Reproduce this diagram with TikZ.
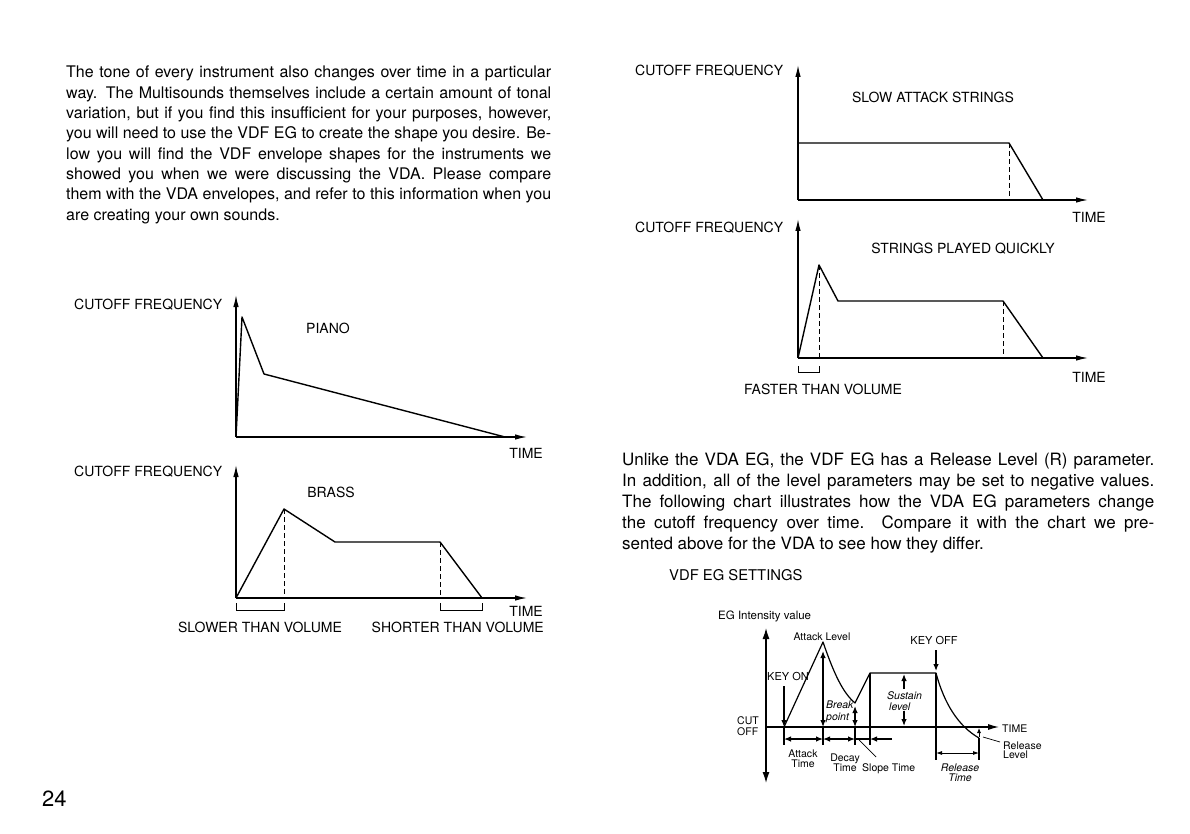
\documentclass[tikz,border=0pt]{standalone}
\usepackage{fontspec}
\setmainfont{TeX Gyre Heros}
\usetikzlibrary{arrows.meta}
\begin{document}
\begin{tikzpicture}[x=1pt,y=-1pt,
  axis/.style={line width=1.3pt,-{Latex[length=12pt,width=5.5pt]}},
  env/.style={line width=1.4pt,line join=round},
  dsh/.style={line width=1pt,dash pattern=on 5pt off 3pt},
  brk/.style={line width=0.9pt},
  lbl/.style={font=\fontsize{14}{16}\selectfont,inner sep=0pt},
  sm/.style={font=\fontsize{10.5}{12}\selectfont,inner sep=0pt},
  smi/.style={font=\fontsize{10.5}{12}\selectfont\itshape,inner sep=0pt},
  eg/.style={line width=1.2pt},
  egar/.style={line width=1.2pt,-{Latex[length=7pt,width=5.5pt]}},
  egdbl/.style={line width=1.2pt,{Latex[length=7pt,width=5.5pt]}-{Latex[length=7pt,width=5.5pt]}},
  body/.style={text width=#1,align=justify,inner sep=0pt,anchor=base west}
]
\useasboundingbox (0,0) rectangle (1190,834);

% ---------- paragraphs ----------
\node[body=485pt,font=\fontsize{16}{20.3}\selectfont] (para1) at (66,78)
{The tone of every instrument also changes over time in a particular\linebreak
way.  The Multisounds themselves include a certain amount of tonal\linebreak
variation, but if you find this insufficient for your purposes, however,\linebreak
you will need to use the VDF EG to create the shape you desire.  Be-\linebreak
low you will find the VDF envelope shapes for the instruments we\linebreak
showed you when we were discussing the VDA.  Please compare\linebreak
them with the VDA envelopes, and refer to this information when you\linebreak
are creating your own sounds.};

\node[body=532pt,font=\fontsize{17}{21.2}\selectfont] (para2) at (622,465)
{Unlike the VDA EG, the VDF EG has a Release Level (R) parameter.\linebreak
In addition, all of the level parameters may be set to negative values.\linebreak
The following chart illustrates how the VDA EG parameters change\linebreak
the cutoff frequency over time.  Compare it with the chart we pre-\linebreak
sented above for the VDA to see how they differ.};

\node[inner sep=0pt,anchor=base west,font=\fontsize{14.8}{17}\selectfont] (vdfset) at (669,580) {VDF EG SETTINGS};

\node[inner sep=0pt,anchor=base west,font=\fontsize{22}{24}\selectfont] (pagenum) at (42,806) {24};

% ---------- PIANO ----------
\coordinate (pO) at (236,437);
\coordinate (pY) at (236,295);
\coordinate (pX) at (527,437);
\coordinate (p1) at (242,317);
\coordinate (p2) at (264,374);
\coordinate (p3) at (505,437);
\draw[axis] (pO) -- (pY);
\draw[axis] (pO) -- (pX);
\draw[env] (pO) -- (p1) -- (p2) -- (p3);
\node[lbl,anchor=base west] (pcf) at (74,309) {CUTOFF FREQUENCY};
\node[lbl,anchor=base] (pname) at (328,333) {PIANO};
\node[lbl,anchor=base east] (ptime) at (543,458) {TIME};

% ---------- BRASS ----------
\coordinate (bO) at (236,598);
\coordinate (bY) at (236,465);
\coordinate (bX) at (527,598);
\coordinate (b1) at (284,509);
\coordinate (b2) at (335,542);
\coordinate (b3) at (440,542);
\coordinate (b4) at (482,598);
\coordinate (b1d) at (284,598);
\coordinate (b3d) at (440,598);
\draw[axis] (bO) -- (bY);
\draw[axis] (bO) -- (bX);
\draw[env] (bO) -- (b1) -- (b2) -- (b3) -- (b4);
\draw[dsh] (b1) -- (b1d);
\draw[dsh] (b3) -- (b3d);
\draw[brk] (236,603) -- (236,610) -- (284,610) -- (284,603);
\draw[brk] (440,603) -- (440,610) -- (482,610) -- (482,603);
\node[lbl,anchor=base west] (bcf) at (74,476) {CUTOFF FREQUENCY};
\node[lbl,anchor=base] (bname) at (331,497) {BRASS};
\node[lbl,anchor=base east] (btime) at (543,616) {TIME};
\node[lbl,anchor=base] (slower) at (260,632) {SLOWER THAN VOLUME};
\node[lbl,anchor=base east] (shorter) at (544,632) {SHORTER THAN VOLUME};

% ---------- SLOW ATTACK STRINGS ----------
\coordinate (sO) at (798,200);
\coordinate (sY) at (798,65);
\coordinate (sX) at (1088,200);
\coordinate (s1) at (798,143);
\coordinate (s2) at (1009,143);
\coordinate (s3) at (1043,200);
\coordinate (s2d) at (1009,200);
\draw[axis] (sO) -- (sY);
\draw[axis] (sO) -- (sX);
\draw[env] (s1) -- (s2) -- (s3);
\draw[dsh] (s2) -- (s2d);
\node[lbl,anchor=base west] (scf) at (635,76) {CUTOFF FREQUENCY};
\node[lbl,anchor=base] (sname) at (933,103) {SLOW ATTACK STRINGS};
\node[lbl,anchor=base east] (stime) at (1106,223) {TIME};

% ---------- STRINGS PLAYED QUICKLY ----------
\coordinate (qO) at (798,358);
\coordinate (qY) at (798,219);
\coordinate (qX) at (1088,358);
\coordinate (q1) at (819,265);
\coordinate (q2) at (838,301);
\coordinate (q3) at (1003,301);
\coordinate (q4) at (1043,358);
\coordinate (q1d) at (819,358);
\coordinate (q3d) at (1003,358);
\draw[axis] (qO) -- (qY);
\draw[axis] (qO) -- (qX);
\draw[env] (qO) -- (q1) -- (q2) -- (q3) -- (q4);
\draw[dsh] (q1) -- (q1d);
\draw[dsh] (q3) -- (q3d);
\draw[brk] (798,366) -- (798,372) -- (819,372) -- (819,366);
\node[lbl,anchor=base west] (qcf) at (635,233) {CUTOFF FREQUENCY};
\node[lbl,anchor=base] (qname) at (963,254) {STRINGS PLAYED QUICKLY};
\node[lbl,anchor=base east] (qtime) at (1106,382) {TIME};
\node[lbl,anchor=base] (faster) at (823,394) {FASTER THAN VOLUME};

% ---------- VDF EG SETTINGS chart ----------
\coordinate (eYt) at (766,628);
\coordinate (eYb) at (766,783);
\coordinate (eO) at (766,727);
\coordinate (eX) at (999,727);
\coordinate (kon) at (784,727);
\coordinate (peak) at (823,642);
\coordinate (brkp) at (855,703);
\coordinate (sus1) at (870,673);
\coordinate (koff) at (936,673);
\coordinate (rel) at (979,738);
\draw[line width=1.3pt,{Latex[length=11pt,width=7pt]}-{Latex[length=11pt,width=7pt]}] (eYb) -- (eYt);
\draw[line width=1.2pt,-{Latex[length=11pt,width=6pt]}] (eO) -- (eX);
\draw[eg,line join=round] (kon) -- (peak) .. controls (834,674) and (843,693) .. (brkp) -- (sus1) -- (koff)
  .. controls (944,703) and (958,726) .. (rel);
% key on
\coordinate (konT) at (784,686);
\draw[egar] (konT) -- (kon);
\draw[eg] (kon) -- (784,745);
% attack level
\draw[egdbl] (823,727) -- (823,651);
\draw[eg] (823,727) -- (823,745);
% break point
\draw[egdbl] (855,727) -- (855,706);
\draw[eg] (855,727) -- (855,745);
% slope vertical
\draw[eg] (sus1) -- (870,745);
% key off
\coordinate (koffT) at (936,650);
\draw[egar] (koffT) -- (936,671);
\draw[eg] (koff) -- (936,760);
% sustain level
\draw[egar] (904,689) -- (904,674);
\draw[egar] (904,711) -- (904,726);
% release
\draw[eg] (rel) -- (979,760);
\draw[line width=0.8pt,-{Latex[length=5pt,width=4pt]}] (979,737) -- (979,728);
\draw[line width=0.8pt,{Latex[length=6pt,width=4pt]}-{Latex[length=6pt,width=4pt]}] (936,753) -- (979,753);
\draw[line width=0.7pt] (983,737) -- (1000,742);
% time arrows
\draw[egdbl] (784,739) -- (823,739);
\draw[egdbl] (823,739) -- (855,739);
\draw[eg] (855,739) -- (870,739);
\draw[egar] (892,739) -- (870,739);
\draw[line width=0.7pt] (859,740) -- (876,757);
% labels
\node[inner sep=0pt,anchor=base west,font=\fontsize{11.5}{13}\selectfont] (egint) at (718,619) {EG Intensity value};
\node[sm,anchor=base] (atlev) at (822,640) {Attack Level};
\node[inner sep=0pt,anchor=base,font=\fontsize{11}{13}\selectfont] (keyoff) at (934,644) {KEY OFF};
\node[inner sep=0pt,anchor=base west,font=\fontsize{11}{13}\selectfont] (keyon) at (767,680) {KEY ON};
\node[smi,anchor=base west] (brk1) at (826,708) {Break};
\node[smi,anchor=base west] (brk2) at (826,720) {point};
\node[smi,anchor=base west] (sus1t) at (887,699) {Sustain};
\node[smi,anchor=base west] (sus2t) at (889,710) {level};
\node[sm,anchor=base west] (cut1) at (737,724) {CUT};
\node[sm,anchor=base west] (cut2) at (737,735) {OFF};
\node[sm,anchor=base west] (etime) at (1002,732) {TIME};
\node[sm,anchor=base west] (rl1) at (1003,749) {Release};
\node[sm,anchor=base west] (rl2) at (1003,758) {Level};
\node[sm,anchor=base] (at1) at (803,757) {Attack};
\node[sm,anchor=base] (at2) at (803,767) {Time};
\node[sm,anchor=base] (dt1) at (845,761) {Decay};
\node[sm,anchor=base] (dt2) at (845,771) {Time};
\node[sm,anchor=base west] (slt) at (862,771) {Slope Time};
\node[smi,anchor=base] (rt1) at (960,771) {Release};
\node[smi,anchor=base] (rt2) at (960,781) {Time};
\end{tikzpicture}
\end{document}
